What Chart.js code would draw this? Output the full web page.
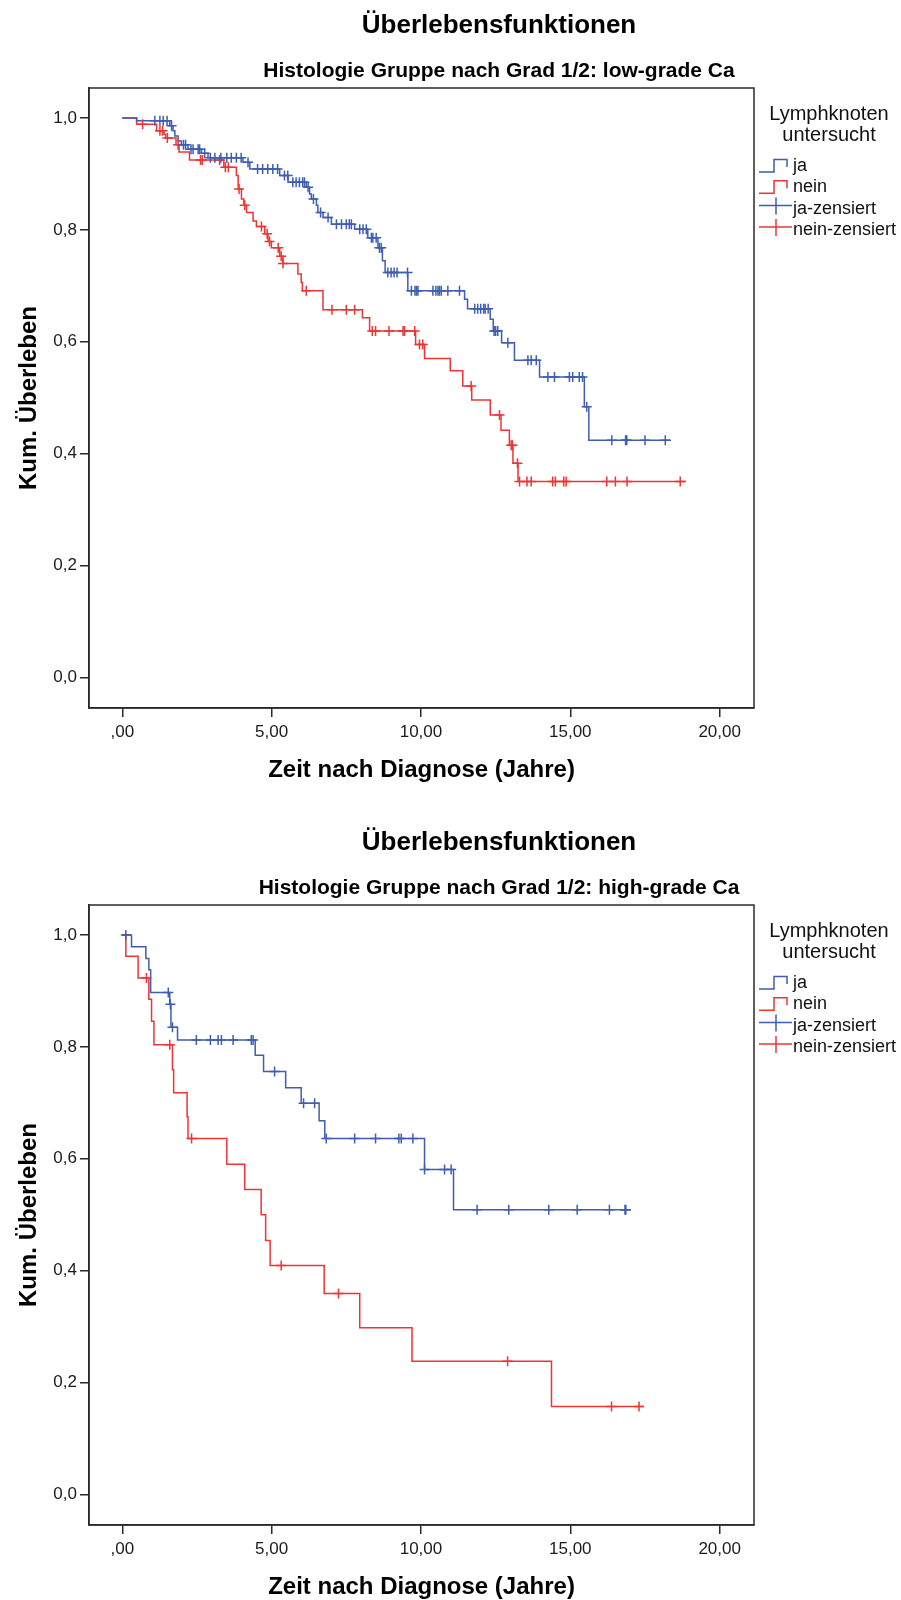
<!DOCTYPE html>
<html lang="de">
<head>
<meta charset="UTF-8">
<title>Überlebensfunktionen</title>
<script src="https://cdn.jsdelivr.net/npm/chart.js"></script>
<style>
    html, body {
        margin: 0;
        padding: 0;
        background: #fff;
        overflow: hidden;
    }
    .panel {
        position: absolute;
        left: 0;
        width: 901px;
        height: 817px;
    }
    #panel-low { top: 0; }
    #panel-high { top: 817px; }
</style>
</head>
<body>
<div class="panel" id="panel-low"><canvas id="chart-low"></canvas></div>
<div class="panel" id="panel-high"><canvas id="chart-high"></canvas></div>
<script>
// texts
const mainTitle = 'Überlebensfunktionen';
const subTitleLow = 'Histologie Gruppe nach Grad 1/2: low-grade Ca';
const subTitleHigh = 'Histologie Gruppe nach Grad 1/2: high-grade Ca';
const xTitle = 'Zeit nach Diagnose (Jahre)';
const yTitle = 'Kum. Überleben';
const legendTitle = ['Lymphknoten', 'untersucht'];
const legendLabels = ['ja', 'nein', 'ja-zensiert', 'nein-zensiert'];

// axis ticks
const xTicks = [0, 5, 10, 15, 20];
const xTickLabels = [',00', '5,00', '10,00', '15,00', '20,00'];
const yTicks = [0, 0.2, 0.4, 0.6, 0.8, 1.0];
const yTickLabels = ['0,0', '0,2', '0,4', '0,6', '0,8', '1,0'];

// low-grade Ca: Lymphknoten untersucht = ja
const lowJaTime = [0, 0.48, 1.59, 1.70, 1.76, 1.87, 1.98, 2.20, 2.65, 2.87, 4.04, 4.27, 5.27, 5.55, 6.16, 6.27, 6.33, 6.50, 6.55, 6.72, 7.00, 7.78, 8.22, 8.56, 8.71, 8.80, 9.56, 11.46, 11.56, 12.32, 12.42, 12.70, 13.13, 13.97, 15.47, 15.62, 18.37];
const lowJaSurv = [1.0, 0.995, 0.986, 0.977, 0.968, 0.959, 0.952, 0.944, 0.937, 0.929, 0.921, 0.909, 0.897, 0.885, 0.876, 0.864, 0.855, 0.844, 0.831, 0.822, 0.810, 0.801, 0.786, 0.768, 0.745, 0.724, 0.691, 0.676, 0.659, 0.640, 0.619, 0.598, 0.567, 0.537, 0.484, 0.424, 0.424];
const lowJaCensor = [1.09, 1.26, 1.37, 1.50, 1.65, 2.05, 2.12, 2.30, 2.37, 2.54, 2.59, 2.76, 2.95, 3.10, 3.30, 3.50, 3.65, 3.82, 3.98, 4.21, 4.53, 4.70, 4.87, 5.04, 5.20, 5.43, 5.54, 5.71, 5.82, 5.93, 6.04, 6.10, 6.22, 6.40, 6.64, 6.89, 7.17, 7.34, 7.50, 7.60, 7.67, 7.95, 8.06, 8.17, 8.34, 8.39, 8.50, 8.61, 8.67, 8.89, 9.00, 9.10, 9.20, 9.55, 9.68, 9.80, 9.85, 9.90, 10.40, 10.50, 10.57, 10.62, 10.68, 10.90, 11.29, 11.80, 11.90, 12.00, 12.10, 12.15, 12.25, 12.45, 12.50, 12.57, 12.91, 13.58, 13.69, 13.86, 14.25, 14.47, 14.97, 15.08, 15.30, 15.41, 15.55, 16.39, 16.85, 16.89, 17.50, 18.18];

// low-grade Ca: nein
const lowNeinTime = [0, 0.48, 1.15, 1.40, 1.45, 1.80, 1.90, 2.25, 3.40, 3.82, 3.88, 3.99, 4.07, 4.16, 4.38, 4.49, 4.77, 4.88, 4.99, 5.27, 5.38, 5.88, 5.99, 6.03, 6.72, 8.04, 8.28, 9.82, 10.12, 10.98, 11.40, 11.70, 12.32, 12.68, 12.96, 13.08, 13.25, 18.87];
const lowNeinSurv = [1.0, 0.989, 0.977, 0.971, 0.964, 0.952, 0.939, 0.925, 0.912, 0.897, 0.873, 0.855, 0.844, 0.831, 0.816, 0.806, 0.793, 0.779, 0.768, 0.753, 0.740, 0.721, 0.706, 0.691, 0.657, 0.643, 0.619, 0.595, 0.570, 0.548, 0.521, 0.496, 0.469, 0.442, 0.415, 0.383, 0.350, 0.350];
const lowNeinCensor = [0.68, 1.26, 1.35, 1.51, 1.87, 2.62, 2.68, 3.26, 3.45, 3.55, 3.91, 4.10, 4.66, 4.85, 4.93, 5.22, 5.32, 5.38, 6.16, 7.02, 7.50, 7.78, 8.37, 8.48, 8.93, 9.40, 9.45, 9.79, 9.95, 10.06, 11.68, 12.63, 13.02, 13.06, 13.23, 13.30, 13.55, 13.69, 14.41, 14.50, 14.78, 14.86, 16.22, 16.51, 16.90, 18.68];

// high-grade Ca: ja
const highJaTime = [0, 0.31, 0.79, 0.89, 0.95, 1.59, 1.63, 1.85, 4.45, 4.73, 5.47, 5.99, 6.59, 6.78, 10.12, 11.09, 17.03];
const highJaSurv = [1.0, 0.979, 0.958, 0.938, 0.897, 0.876, 0.835, 0.8125, 0.785, 0.756, 0.727, 0.699, 0.668, 0.636, 0.581, 0.509, 0.509];
const highJaCensor = [0.12, 1.54, 1.61, 1.68, 2.48, 2.95, 3.21, 3.32, 3.71, 4.32, 4.38, 5.10, 6.07, 6.44, 6.83, 7.78, 8.48, 9.26, 9.34, 9.73, 10.12, 10.79, 11.01, 11.88, 12.94, 14.28, 15.23, 16.31, 16.83, 16.86];

// high-grade Ca: nein
const highNeinTime = [0, 0.12, 0.53, 0.89, 0.98, 1.06, 1.68, 1.72, 2.17, 2.20, 3.50, 4.10, 4.65, 4.80, 4.95, 6.76, 7.95, 9.70, 14.37, 17.45];
const highNeinSurv = [1.0, 0.962, 0.923, 0.885, 0.846, 0.804, 0.759, 0.718, 0.675, 0.636, 0.590, 0.545, 0.500, 0.454, 0.409, 0.359, 0.298, 0.238, 0.157, 0.157];
const highNeinCensor = [0.81, 1.59, 2.32, 5.32, 7.24, 12.90, 16.38, 17.30];

const FONT = 'Arial, "Liberation Sans", Helvetica, sans-serif';
const BLUE = '#3f5eb2';
const RED = '#ef3434';
const AXIS = '#2a2a2a';

// Kaplan-Meier value at time t (step function)
function survAt(times, surv, t) {
    let s = surv[0];
    for (let i = 0; i < times.length; i++) {
        if (times[i] <= t) s = surv[i];
    }
    return s;
}

function stepPoints(times, surv) {
    return times.map((t, i) => ({ x: t, y: surv[i] }));
}

function censorPoints(times, surv, cens) {
    return cens.map(t => ({ x: t, y: survAt(times, surv, t) }));
}

// titles, frame and the SPSS-style legend
const decorPlugin = {
    id: 'decor',
    afterDraw(chart, args, opts) {
        const ctx = chart.ctx;
        const a = chart.chartArea;
        ctx.save();
        ctx.strokeStyle = AXIS;
        ctx.lineWidth = 1.5;
        ctx.strokeRect(a.left, a.top, a.right - a.left, a.bottom - a.top);

        ctx.fillStyle = '#000';
        ctx.textAlign = 'center';
        ctx.textBaseline = 'alphabetic';
        ctx.font = 'bold 26px ' + FONT;
        ctx.fillText(mainTitle, 499, 33);
        ctx.font = 'bold 21px ' + FONT;
        ctx.fillText(opts.subtitle, 499, 77);

        // legend
        ctx.font = '20px ' + FONT;
        ctx.fillStyle = '#111';
        legendTitle.forEach((line, i) => ctx.fillText(line, 829, 120 + i * 21));

        ctx.textAlign = 'left';
        ctx.font = '18px ' + FONT;
        const colors = [BLUE, RED, BLUE, RED];
        legendLabels.forEach((label, i) => {
            const b = 171 + i * 21.3;
            ctx.strokeStyle = colors[i];
            ctx.lineWidth = 1.5;
            ctx.beginPath();
            if (i < 2) {
                ctx.moveTo(759, b + 1);
                ctx.lineTo(774, b + 1);
                ctx.lineTo(774, b - 11.5);
                ctx.lineTo(787, b - 11.5);
                ctx.lineTo(787, b - 4);
            } else {
                ctx.moveTo(759, b - 8);
                ctx.lineTo(792, b - 8);
                ctx.moveTo(776, b - 16);
                ctx.lineTo(776, b + 1);
            }
            ctx.stroke();
            ctx.fillStyle = '#111';
            ctx.fillText(label, 793, b);
        });
        ctx.restore();
    }
};

function makeChart(canvasId, subtitle, jaT, jaS, jaC, neinT, neinS, neinC) {
    return new Chart(document.getElementById(canvasId), {
        type: 'line',
        data: {
            datasets: [
                {
                    label: legendLabels[2],
                    data: censorPoints(jaT, jaS, jaC),
                    showLine: false,
                    pointStyle: 'cross',
                    pointRadius: 5,
                    pointBorderWidth: 1.5,
                    borderColor: BLUE,
                    order: 0
                },
                {
                    label: legendLabels[3],
                    data: censorPoints(neinT, neinS, neinC),
                    showLine: false,
                    pointStyle: 'cross',
                    pointRadius: 5,
                    pointBorderWidth: 1.5,
                    borderColor: RED,
                    order: 1
                },
                {
                    label: legendLabels[0],
                    data: stepPoints(jaT, jaS),
                    stepped: 'before',
                    borderColor: BLUE,
                    borderWidth: 1.5,
                    pointRadius: 0,
                    fill: false,
                    order: 2
                },
                {
                    label: legendLabels[1],
                    data: stepPoints(neinT, neinS),
                    stepped: 'before',
                    borderColor: RED,
                    borderWidth: 1.5,
                    pointRadius: 0,
                    fill: false,
                    order: 3
                }
            ]
        },
        options: {
            responsive: true,
            maintainAspectRatio: false,
            animation: false,
            events: [],
            layout: { padding: { top: 88, right: 147, left: 0, bottom: 0 } },
            plugins: {
                legend: { display: false },
                tooltip: { enabled: false },
                decor: { subtitle: subtitle }
            },
            scales: {
                x: {
                    type: 'linear',
                    bounds: 'data',
                    min: -1.114,
                    max: 21.15,
                    afterBuildTicks: s => { s.ticks = xTicks.map(v => ({ value: v })); },
                    afterFit: s => { s.height = 109; },
                    ticks: {
                        callback: (v, i) => xTickLabels[i],
                        font: { family: FONT, size: 17 },
                        color: '#1a1a1a',
                        padding: 5,
                        maxRotation: 0,
                        autoSkip: false
                    },
                    grid: { drawOnChartArea: false, drawTicks: true, tickLength: 9, color: AXIS, lineWidth: 1.5 },
                    border: { display: true, color: AXIS, width: 1.5 },
                    title: {
                        display: true,
                        text: xTitle,
                        color: '#000',
                        font: { family: FONT, size: 24, weight: 'bold' },
                        padding: { top: 0, bottom: 32 }
                    }
                },
                y: {
                    type: 'linear',
                    bounds: 'data',
                    min: -0.0547,
                    max: 1.0536,
                    afterBuildTicks: s => { s.ticks = yTicks.map(v => ({ value: v })); },
                    afterFit: s => { s.width = 89; },
                    ticks: {
                        callback: (v, i) => yTickLabels[i],
                        font: { family: FONT, size: 17 },
                        color: '#1a1a1a',
                        padding: 3,
                        autoSkip: false
                    },
                    grid: { drawOnChartArea: false, drawTicks: true, tickLength: 9, color: AXIS, lineWidth: 1.5 },
                    border: { display: true, color: AXIS, width: 1.5 },
                    title: {
                        display: true,
                        text: yTitle,
                        color: '#000',
                        font: { family: FONT, size: 24, weight: 'bold' },
                        padding: { top: 15, bottom: 0 }
                    }
                }
            }
        },
        plugins: [decorPlugin]
    });
}

makeChart('chart-low', subTitleLow, lowJaTime, lowJaSurv, lowJaCensor, lowNeinTime, lowNeinSurv, lowNeinCensor);
makeChart('chart-high', subTitleHigh, highJaTime, highJaSurv, highJaCensor, highNeinTime, highNeinSurv, highNeinCensor);
</script>
</body>
</html>
